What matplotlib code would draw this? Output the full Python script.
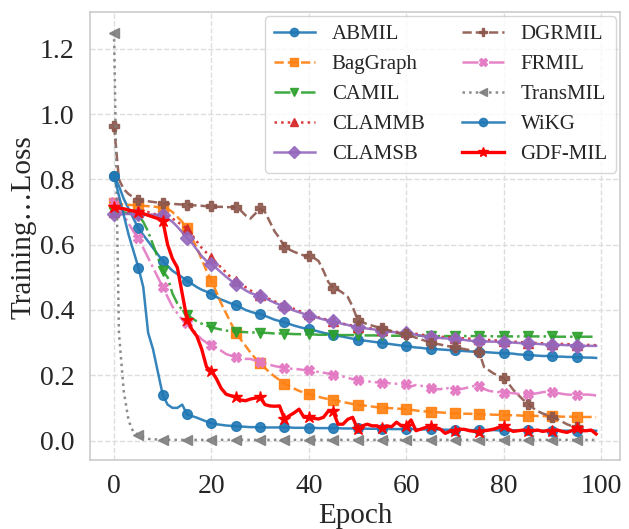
import numpy as np
import matplotlib
matplotlib.use("Agg")
import matplotlib.pyplot as plt

# Training loss per epoch
epochs = list(range(100))

abmil = [0.81, 0.78, 0.74, 0.71, 0.68, 0.65, 0.63, 0.61, 0.59, 0.57,
         0.55, 0.535, 0.52, 0.51, 0.50, 0.49, 0.48, 0.47, 0.462, 0.456,
         0.45, 0.44, 0.432, 0.426, 0.42, 0.415, 0.408, 0.40, 0.395, 0.39,
         0.388, 0.382, 0.376, 0.37, 0.366, 0.362, 0.357, 0.352, 0.348, 0.344,
         0.341, 0.338, 0.334, 0.33, 0.327, 0.324, 0.321, 0.318, 0.315, 0.312,
         0.309, 0.307, 0.305, 0.303, 0.301, 0.299, 0.297, 0.295, 0.293, 0.291,
         0.289, 0.287, 0.285, 0.284, 0.282, 0.281, 0.28, 0.279, 0.278, 0.277,
         0.276, 0.275, 0.274, 0.273, 0.272, 0.272, 0.271, 0.27, 0.269, 0.268,
         0.268, 0.267, 0.266, 0.264, 0.263, 0.262, 0.261, 0.26, 0.259, 0.259,
         0.258, 0.257, 0.257, 0.256, 0.256, 0.255, 0.255, 0.254, 0.254, 0.253]

baggraph = [0.727, 0.725, 0.723, 0.722, 0.721, 0.72, 0.719, 0.718, 0.717, 0.715,
            0.714, 0.71, 0.70, 0.685, 0.67, 0.65, 0.62, 0.59, 0.555, 0.52,
            0.49, 0.455, 0.42, 0.39, 0.36, 0.33, 0.31, 0.29, 0.27, 0.252,
            0.236, 0.222, 0.208, 0.196, 0.185, 0.174, 0.166, 0.159, 0.152, 0.147,
            0.142, 0.138, 0.134, 0.13, 0.127, 0.124, 0.121, 0.118, 0.115, 0.112,
            0.11, 0.108, 0.106, 0.104, 0.102, 0.101, 0.1, 0.099, 0.098, 0.097,
            0.096, 0.094, 0.092, 0.09, 0.089, 0.088, 0.087, 0.086, 0.085, 0.084,
            0.083, 0.083, 0.082, 0.082, 0.081, 0.081, 0.08, 0.08, 0.079, 0.079,
            0.078, 0.078, 0.077, 0.077, 0.076, 0.076, 0.076, 0.075, 0.075, 0.074,
            0.074, 0.074, 0.073, 0.073, 0.073, 0.073, 0.072, 0.072, 0.072, 0.071]

camil = [0.70, 0.70, 0.70, 0.695, 0.692, 0.69, 0.67, 0.64, 0.60, 0.56,
         0.52, 0.50, 0.45, 0.42, 0.40, 0.385, 0.375, 0.365, 0.358, 0.352,
         0.347, 0.343, 0.34, 0.337, 0.335, 0.334, 0.333, 0.332, 0.331, 0.331,
         0.33, 0.33, 0.329, 0.328, 0.328, 0.327, 0.327, 0.326, 0.326, 0.325,
         0.325, 0.325, 0.324, 0.324, 0.324, 0.324, 0.323, 0.323, 0.323, 0.323,
         0.322, 0.322, 0.322, 0.322, 0.322, 0.322, 0.322, 0.321, 0.321, 0.321,
         0.321, 0.321, 0.321, 0.321, 0.321, 0.321, 0.32, 0.32, 0.32, 0.32,
         0.32, 0.32, 0.32, 0.32, 0.32, 0.32, 0.32, 0.32, 0.319, 0.319,
         0.319, 0.319, 0.319, 0.319, 0.319, 0.319, 0.319, 0.319, 0.319, 0.319,
         0.319, 0.318, 0.318, 0.318, 0.318, 0.318, 0.318, 0.318, 0.318, 0.318]

clammb = [0.70, 0.70, 0.70, 0.70, 0.70, 0.70, 0.70, 0.70, 0.695, 0.692,
          0.69, 0.685, 0.68, 0.67, 0.66, 0.648, 0.63, 0.61, 0.59, 0.575,
          0.56, 0.545, 0.53, 0.515, 0.50, 0.49, 0.48, 0.47, 0.46, 0.452,
          0.447, 0.44, 0.433, 0.426, 0.42, 0.415, 0.409, 0.403, 0.397, 0.392,
          0.387, 0.382, 0.377, 0.373, 0.369, 0.366, 0.362, 0.358, 0.355, 0.352,
          0.349, 0.347, 0.345, 0.343, 0.341, 0.339, 0.337, 0.335, 0.333, 0.332,
          0.331, 0.329, 0.327, 0.325, 0.322, 0.32, 0.319, 0.318, 0.317, 0.316,
          0.315, 0.314, 0.313, 0.312, 0.311, 0.31, 0.309, 0.308, 0.307, 0.306,
          0.305, 0.304, 0.303, 0.302, 0.301, 0.30, 0.299, 0.299, 0.298, 0.298,
          0.297, 0.296, 0.296, 0.295, 0.295, 0.294, 0.294, 0.293, 0.293, 0.292]

clamsb = [0.694, 0.694, 0.694, 0.694, 0.694, 0.694, 0.694, 0.693, 0.692, 0.691,
          0.69, 0.68, 0.67, 0.655, 0.638, 0.62, 0.605, 0.585, 0.565, 0.55,
          0.54, 0.528, 0.515, 0.502, 0.49, 0.48, 0.47, 0.46, 0.452, 0.447,
          0.443, 0.436, 0.429, 0.422, 0.416, 0.41, 0.404, 0.398, 0.393, 0.388,
          0.383, 0.379, 0.375, 0.371, 0.368, 0.365, 0.361, 0.357, 0.354, 0.35,
          0.347, 0.345, 0.343, 0.341, 0.339, 0.337, 0.335, 0.333, 0.331, 0.33,
          0.329, 0.327, 0.324, 0.321, 0.318, 0.316, 0.315, 0.314, 0.313, 0.312,
          0.312, 0.31, 0.308, 0.306, 0.305, 0.304, 0.304, 0.303, 0.303, 0.302,
          0.302, 0.301, 0.3, 0.299, 0.298, 0.298, 0.297, 0.296, 0.295, 0.294,
          0.294, 0.293, 0.293, 0.292, 0.292, 0.291, 0.291, 0.29, 0.29, 0.29]

dgrmil = [0.965, 0.80, 0.77, 0.755, 0.745, 0.737, 0.735, 0.733, 0.731, 0.729,
          0.727, 0.726, 0.725, 0.724, 0.723, 0.722, 0.721, 0.72, 0.719, 0.718,
          0.717, 0.716, 0.716, 0.715, 0.715, 0.714, 0.705, 0.69, 0.68, 0.695,
          0.711, 0.70, 0.67, 0.64, 0.62, 0.593, 0.585, 0.578, 0.572, 0.567,
          0.565, 0.56, 0.55, 0.52, 0.486, 0.466, 0.462, 0.452, 0.44, 0.41,
          0.37, 0.362, 0.357, 0.352, 0.348, 0.345, 0.34, 0.335, 0.33, 0.327,
          0.325, 0.32, 0.315, 0.31, 0.305, 0.30, 0.297, 0.294, 0.291, 0.288,
          0.285, 0.283, 0.28, 0.277, 0.273, 0.27, 0.225, 0.215, 0.205, 0.198,
          0.192, 0.175, 0.155, 0.14, 0.125, 0.113, 0.10, 0.09, 0.083, 0.078,
          0.073, 0.066, 0.058, 0.05, 0.044, 0.04, 0.036, 0.033, 0.03, 0.028]

frmil = [0.73, 0.71, 0.69, 0.665, 0.64, 0.62, 0.59, 0.56, 0.53, 0.50,
         0.47, 0.44, 0.41, 0.39, 0.37, 0.36, 0.345, 0.325, 0.31, 0.30,
         0.294, 0.285, 0.275, 0.265, 0.26, 0.255, 0.252, 0.25, 0.25, 0.245,
         0.241, 0.236, 0.232, 0.228, 0.225, 0.223, 0.22, 0.22, 0.218, 0.216,
         0.215, 0.213, 0.21, 0.208, 0.205, 0.202, 0.199, 0.196, 0.192, 0.188,
         0.185, 0.183, 0.181, 0.18, 0.178, 0.177, 0.176, 0.175, 0.174, 0.174,
         0.173, 0.166, 0.17, 0.168, 0.164, 0.16, 0.158, 0.157, 0.162, 0.158,
         0.155, 0.157, 0.16, 0.164, 0.167, 0.168, 0.158, 0.152, 0.15, 0.148,
         0.147, 0.146, 0.145, 0.143, 0.142, 0.142, 0.143, 0.145, 0.148, 0.15,
         0.15, 0.146, 0.143, 0.141, 0.14, 0.14, 0.14, 0.141, 0.14, 0.138]

transmil = [1.25, 0.33, 0.15, 0.06, 0.025, 0.018, 0.01, 0.005, 0.004, 0.003,
            0.002, 0.002, 0.002, 0.002, 0.002, 0.002, 0.002, 0.002, 0.002, 0.002,
            0.002, 0.002, 0.002, 0.002, 0.002, 0.002, 0.002, 0.002, 0.002, 0.002,
            0.002, 0.002, 0.002, 0.002, 0.002, 0.002, 0.002, 0.002, 0.002, 0.002,
            0.002, 0.002, 0.002, 0.002, 0.002, 0.002, 0.002, 0.002, 0.002, 0.002,
            0.002, 0.002, 0.002, 0.002, 0.002, 0.002, 0.002, 0.002, 0.002, 0.002,
            0.002, 0.002, 0.002, 0.002, 0.002, 0.002, 0.002, 0.002, 0.002, 0.002,
            0.002, 0.002, 0.002, 0.002, 0.002, 0.002, 0.002, 0.002, 0.002, 0.002,
            0.002, 0.002, 0.002, 0.002, 0.002, 0.002, 0.002, 0.002, 0.002, 0.002,
            0.002, 0.002, 0.002, 0.002, 0.002, 0.002, 0.002, 0.002, 0.002, 0.002]

wikg = [0.81, 0.75, 0.69, 0.63, 0.58, 0.53, 0.47, 0.33, 0.28, 0.21,
        0.14, 0.11, 0.10, 0.10, 0.11, 0.08, 0.075, 0.07, 0.064, 0.058,
        0.053, 0.05, 0.048, 0.046, 0.045, 0.044, 0.043, 0.042, 0.041, 0.041,
        0.04, 0.04, 0.04, 0.04, 0.04, 0.04, 0.04, 0.039, 0.039, 0.039,
        0.039, 0.039, 0.038, 0.038, 0.038, 0.038, 0.038, 0.037, 0.037, 0.037,
        0.037, 0.037, 0.036, 0.036, 0.036, 0.036, 0.036, 0.035, 0.035, 0.035,
        0.035, 0.035, 0.035, 0.034, 0.034, 0.034, 0.034, 0.034, 0.033, 0.033,
        0.033, 0.033, 0.033, 0.032, 0.032, 0.032, 0.032, 0.032, 0.032, 0.031,
        0.031, 0.031, 0.031, 0.031, 0.031, 0.031, 0.030, 0.030, 0.030, 0.030,
        0.030, 0.030, 0.030, 0.030, 0.030, 0.030, 0.030, 0.030, 0.030, 0.030]

gdfmil = [0.715, 0.712, 0.71, 0.706, 0.703, 0.70, 0.695, 0.69, 0.685, 0.68,
          0.674, 0.60, 0.557, 0.53, 0.45, 0.37, 0.34, 0.32, 0.28, 0.225,
          0.213, 0.19, 0.16, 0.142, 0.137, 0.134, 0.124, 0.122, 0.127, 0.13,
          0.132, 0.11, 0.106, 0.105, 0.106, 0.066, 0.076, 0.085, 0.096, 0.071,
          0.071, 0.068, 0.066, 0.071, 0.09, 0.089, 0.05, 0.05, 0.065, 0.071,
          0.035, 0.045, 0.05, 0.045, 0.045, 0.038, 0.045, 0.042, 0.056, 0.045,
          0.045, 0.063, 0.03, 0.035, 0.04, 0.043, 0.04, 0.035, 0.022, 0.028,
          0.03, 0.035, 0.034, 0.03, 0.028, 0.027, 0.03, 0.032, 0.035, 0.04,
          0.045, 0.035, 0.028, 0.03, 0.032, 0.03, 0.03, 0.032, 0.028, 0.03,
          0.03, 0.032, 0.028, 0.025, 0.03, 0.038, 0.03, 0.03, 0.032, 0.02]

# name, values, color, linestyle, marker
series = [
    ("ABMIL", abmil, "#1f77b4", "-", "o"),
    ("BagGraph", baggraph, "#ff7f0e", "--", "s"),
    ("CAMIL", camil, "#2ca02c", "-.", "v"),
    ("CLAMMB", clammb, "#d62728", ":", "^"),
    ("CLAMSB", clamsb, "#9467bd", "-", "D"),
    ("DGRMIL", dgrmil, "#8c564b", "--", "P"),
    ("FRMIL", frmil, "#e377c2", "-.", "X"),
    ("TransMIL", transmil, "#7f7f7f", ":", "<"),
    ("WiKG", wikg, "#1f77b4", "-", "o"),
    ("GDF-MIL", gdfmil, "#ff0000", "-", "*"),
]

plt.rcParams['font.family'] = ['Liberation Serif', 'DejaVu Serif']
plt.rcParams['text.color'] = '#262626'
plt.rcParams['axes.labelcolor'] = '#262626'
plt.rcParams['xtick.color'] = '#262626'
plt.rcParams['ytick.color'] = '#262626'

fig = plt.figure(figsize=(6.29, 5.29), dpi=100)
ax = fig.add_axes([0.143, 0.130, 0.843, 0.847])

for name, vals, color, ls, mk in series:
    lw = 2.4 if name == "GDF-MIL" else 1.8
    ms = 9 if mk == "*" else 7
    ax.plot(epochs, vals, color=color, linestyle=ls, marker=mk, markevery=5,
            linewidth=lw, markersize=ms, label=name, alpha=0.9 if name != "GDF-MIL" else 1.0)

ax.set_xlabel("Epoch", fontsize=21, labelpad=3)
ax.set_ylabel("Training\u2026Loss", fontsize=21)
ax.yaxis.set_label_coords(-0.10, 0.52)
ax.tick_params(axis='both', labelsize=20, length=0)
ax.tick_params(axis='x', pad=10)
ax.tick_params(axis='y', pad=11)
ax.set_xticks([0, 20, 40, 60, 80, 100])
ax.set_yticks([0.0, 0.2, 0.4, 0.6, 0.8, 1.0, 1.2])
ax.set_yticklabels(["0.0", "0.2", "0.4", "0.6", "0.8", "1.0", "1.2"])

ax.grid(True, linestyle='--', color='#dddddd', linewidth=1.0)
ax.set_axisbelow(True)
for sp in ax.spines.values():
    sp.set_color('#cccccc')
    sp.set_linewidth(1.2)

leg = ax.legend(loc='upper right', ncol=2, fontsize=15, frameon=True,
                handlelength=2.0, columnspacing=1.8, labelspacing=0.5,
                borderaxespad=0.2, markerscale=0.85)
leg.get_frame().set_edgecolor('#cccccc')

fig.savefig("out.png", dpi=100)
